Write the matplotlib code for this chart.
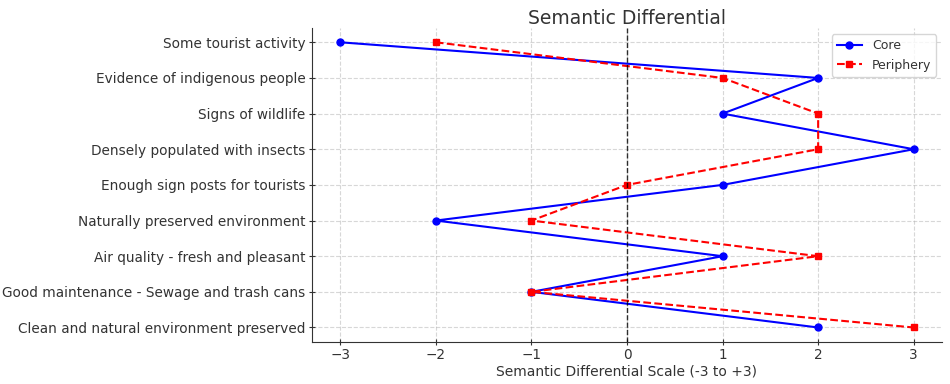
import numpy as np
import matplotlib.pyplot as plt

attributes = ["Some tourist activity",
              "Evidence of indigenous people",
              "Signs of wildlife",
              "Densely populated with insects",
              "Enough sign posts for tourists",
              "Naturally preserved environment",
              "Air quality - fresh and pleasant",
              "Good maintenance - Sewage and trash cans",
              "Clean and natural environment preserved"]
core = [-3, 2, 1, 3, 1, -2, 1, -1, 2]
periphery = [-2, 1, 2, 2, 0, -1, 2, -1, 3]

y = np.arange(len(attributes))

txt = "#333333"
fig, ax = plt.subplots(figsize=(9.5, 3.84), dpi=100)
fig.subplots_adjust(left=0.328, right=0.992, top=0.927, bottom=0.11)

ax.plot(core, y, color="blue", marker="o", markersize=5, linestyle="-", label="Core")
ax.plot(periphery, y, color="red", marker="s", markersize=5, linestyle="--", label="Periphery")
ax.axvline(0, color="black", linestyle="--", linewidth=1, alpha=0.8)

ax.set_yticks(y)
ax.set_yticklabels(attributes, fontsize=9.8, color=txt)
ax.invert_yaxis()
ax.tick_params(axis="both", direction="inout", length=5, pad=2, colors=txt, labelsize=9.8)
ax.set_xlabel("Semantic Differential Scale (-3 to +3)", fontsize=10, color=txt, labelpad=2)
ax.set_title("Semantic Differential", fontsize=13.5, color=txt, pad=3)
ax.grid(True, linestyle="--", alpha=0.5)
for s in ["top", "right"]:
    ax.spines[s].set_visible(False)
for s in ["left", "bottom"]:
    ax.spines[s].set_color(txt)
ax.legend(loc="upper right", fontsize=9, labelcolor=txt)

plt.savefig("out.png")
